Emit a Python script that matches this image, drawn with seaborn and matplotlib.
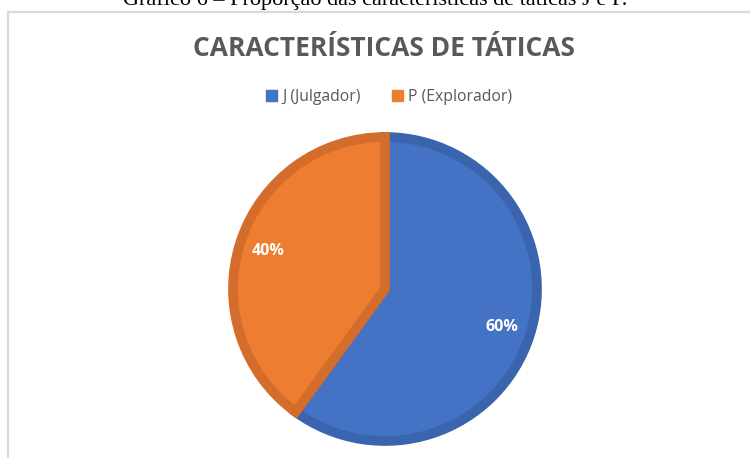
import matplotlib.pyplot as plt
import seaborn as sns
from matplotlib.lines import Line2D
from matplotlib.patches import Patch

# chart data
categories = ['J (Julgador)', 'P (Explorador)']
shares = [60, 40]
face_colors = ['#4472c4', '#ed7d31']
edge_colors = ['#3b64ae', '#d46d2b']

title = 'CARACTERÍSTICAS DE TÁTICAS'
caption = 'Gráfico 6 – Proporção das características de táticas J e P.'

sns.set_theme(style='white')
plt.rcParams['font.family'] = ['Open Sans', 'DejaVu Sans']

W, H = 750, 458
fig = plt.figure(figsize=(W / 100, H / 100), dpi=100)
fig.patch.set_facecolor('white')

# caption above the chart box (cropped at the top, as in the source)
fig.text(0.5, 1 - 5 / H, caption, ha='center', va='baseline',
         fontsize=16, family=['Liberation Serif'], color='black')

# light grey chart border (top and left only visible)
fig.add_artist(Line2D([7.5 / W, 1], [1 - 11.5 / H, 1 - 11.5 / H],
                      transform=fig.transFigure, color='#d9d9d9', lw=1.6))
fig.add_artist(Line2D([7.5 / W, 7.5 / W], [0, 1 - 11.5 / H],
                      transform=fig.transFigure, color='#d9d9d9', lw=1.6))

fig.text(384 / W, 1 - 48 / H, title, ha='center', va='center',
         fontsize=19, fontweight='bold', color='#595959')

# pie axes
cx, cy, r = 385, 289, 152
ax = fig.add_axes([(cx - r) / W, (H - cy - r) / H, 2 * r / W, 2 * r / H])
wedges, texts, autotexts = ax.pie(
    shares, colors=face_colors, startangle=90, counterclock=False,
    autopct='%1.0f%%', pctdistance=0.81, radius=1,
    textprops=dict(color='white', fontsize=11.5, fontweight='bold'))
for w, ec in zip(wedges, edge_colors):
    w.set_edgecolor(ec)
    w.set_linewidth(7)
    w.set_clip_path(w)
ax.set_xlim(-1, 1)
ax.set_ylim(-1, 1)
ax.set_aspect('auto')
ax.axis('off')

handles = [Patch(facecolor=c, edgecolor=c) for c in face_colors]
fig.legend(handles, categories, loc='center', bbox_to_anchor=(389 / W, 1 - 97 / H),
           ncol=2, frameon=False, fontsize=11.3, labelcolor='#595959',
           handlelength=0.7, handleheight=0.7, handletextpad=0.3, columnspacing=2.0)

fig.savefig('out.png', dpi=100)
